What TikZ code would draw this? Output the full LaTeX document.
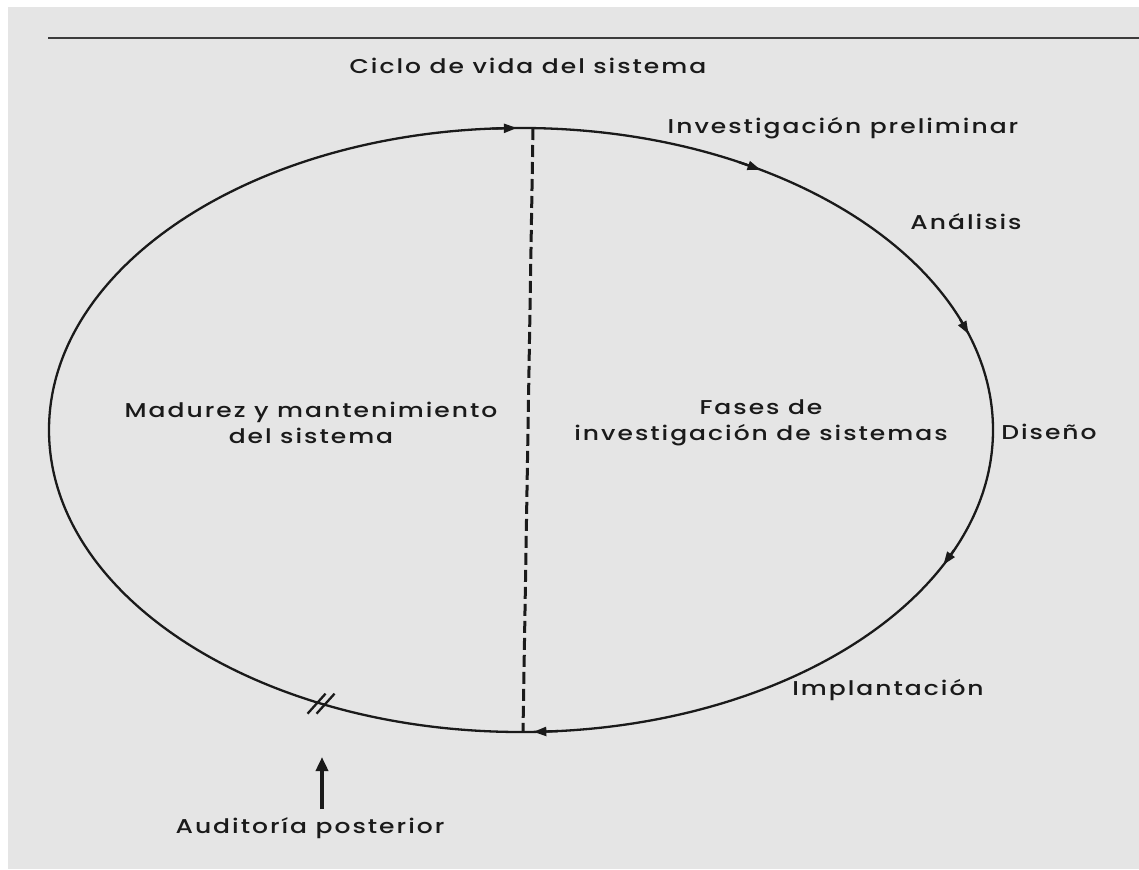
\documentclass[tikz,border=0pt]{standalone}
\usepackage{fontspec}
\setmainfont{Poppins}[UprightFont=* Medium, FakeStretch=1.25, LetterSpace=10]
\usetikzlibrary{arrows.meta,calc}
\definecolor{paper}{HTML}{E5E5E5}
\definecolor{ink}{HTML}{1A1A1A}
\begin{document}
\begin{tikzpicture}[x=1pt,y=-1pt,
  lbl/.style={font=\fontsize{20}{26}\selectfont, text=ink, inner sep=0pt, align=center},
  ring/.style={draw=ink, line width=2.3pt},
  divider/.style={draw=ink, line width=3pt, dash pattern=on 12pt off 5pt},
  flowtip/.style={draw=ink, line width=2.3pt, -{Triangle[length=13pt,width=9pt]}},
  slash/.style={draw=ink, line width=2.3pt},
  rulestyle/.style={draw=ink!85, line width=2.5pt},
  audarrow/.style={draw=ink, line width=3.5pt, -{Triangle[length=14pt,width=12pt]}}]
\useasboundingbox (0,0) rectangle (1139,869);
\fill[white] (0,0) rectangle (1139,869);
\fill[paper] (8,7) rectangle (1139,869);
\draw[rulestyle] (48,38) -- (1139,38);
\coordinate (C) at (521,430);
\draw[ring] (C) ellipse [x radius=472pt, y radius=302pt];
\coordinate (top) at (533,128);
\coordinate (bot) at (523,731);
\draw[divider] (top) -- (bot);
\foreach \p in {-92,-61,-20,25,87}
  \draw[flowtip] ($(C)+({472*cos(\p-1.5)},{302*sin(\p-1.5)})$) -- ($(C)+({472*cos(\p+1.5)},{302*sin(\p+1.5)})$);
\coordinate (P) at ($(C)+({472*cos(115)},{302*sin(115)})$);
\draw[slash] ($(P)+(-14,10)$) -- ++(18,-20);
\draw[slash] ($(P)+(-5,10)$) -- ++(18,-20);
\node[lbl] (ciclo) at (528,66) {Ciclo de vida del sistema};
\node[lbl] (inv) at (843,128) {Investigación preliminar};
\node[lbl] (ana) at (966,222) {Análisis};
\node[lbl] (dis) at (1049,432) {Diseño};
\node[lbl] (imp) at (888,690) {Implantación};
\node[lbl] (mad) at (311,423) {Madurez y mantenimiento\\del sistema};
\node[lbl] (fas) at (761,423) {Fases de\\investigación de sistemas};
\node[lbl] (aud) at (310,828) {Auditoría posterior};
\coordinate (audtip) at (322,757);
\draw[audarrow] (aud.north -| audtip) ++(0,-8) -- (audtip);
\end{tikzpicture}
\end{document}
